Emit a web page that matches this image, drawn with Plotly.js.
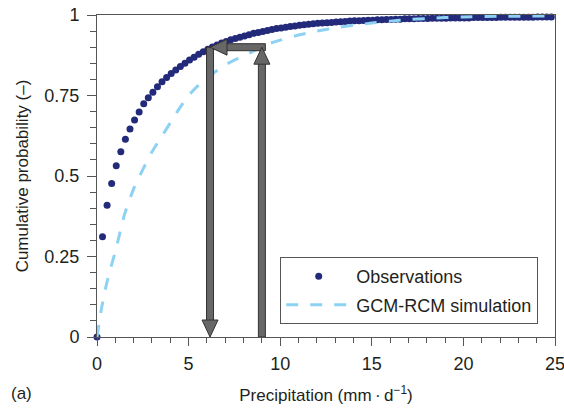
<!DOCTYPE html>
<html>
<head>
<meta charset="utf-8">
<script src="https://cdn.plot.ly/plotly-3.0.1.min.js"></script>
<style>html,body{margin:0;padding:0;background:#fff;}#chart{width:564px;height:412px;}</style>
</head>
<body>
<div id="chart"></div>
<script>
// Observations (empirical cumulative probability)
const obsX = [0, 0.3, 0.55, 0.8, 1.05, 1.3, 1.55, 1.8, 2.05, 2.3, 2.55, 2.8, 3.05, 3.3, 3.55,
  3.8, 4.05, 4.3, 4.55, 4.8, 5.05, 5.3, 5.55, 5.8, 6.05, 6.3, 6.55, 6.8, 7.05, 7.3, 7.55, 7.8,
  8.05, 8.3, 8.55, 8.8, 9.05, 9.3, 9.55, 9.8, 10.05, 10.3, 10.55, 10.8, 11.05, 11.3, 11.55, 11.8,
  12.05, 12.3, 12.55, 12.8, 13.05, 13.3, 13.55, 13.8, 14.05, 14.3, 14.55, 14.8, 15.05, 15.3, 15.55, 15.8,
  16.05, 16.3, 16.55, 16.8, 17.05, 17.3, 17.55, 17.8, 18.05, 18.3, 18.55, 18.8, 19.05, 19.3, 19.55, 19.8,
  20.05, 20.3, 20.55, 20.8, 21.05, 21.3, 21.55, 21.8, 22.05, 22.3, 22.55, 22.8, 23.05, 23.3, 23.55, 23.8,
  24.05, 24.3, 24.55, 24.8];
const obsY = [0, 0.311, 0.409, 0.477, 0.532, 0.575, 0.614, 0.646, 0.674, 0.699, 0.724, 0.743, 0.760, 0.777, 0.793,
  0.806, 0.818, 0.829, 0.840, 0.850, 0.860, 0.869, 0.878, 0.886, 0.894, 0.901, 0.907, 0.913, 0.918, 0.923, 0.927, 0.931,
  0.935, 0.939, 0.943, 0.946, 0.949, 0.952, 0.955, 0.958, 0.960, 0.962, 0.964, 0.966, 0.968, 0.970, 0.971, 0.973,
  0.974, 0.975, 0.976, 0.977, 0.978, 0.979, 0.980, 0.981, 0.982, 0.982, 0.983, 0.984, 0.984, 0.985, 0.985, 0.986,
  0.986, 0.987, 0.987, 0.988, 0.988, 0.988, 0.989, 0.989, 0.989, 0.990, 0.990, 0.990, 0.990, 0.991, 0.991, 0.991,
  0.991, 0.991, 0.992, 0.992, 0.992, 0.992, 0.992, 0.992, 0.993, 0.993, 0.993, 0.993, 0.993, 0.993, 0.993, 0.993,
  0.994, 0.994, 0.994, 0.994];
// GCM-RCM simulation
const simX = [0, 0.25, 0.5, 0.75, 1, 1.5, 2, 2.5, 3, 3.5, 4, 4.5, 5, 5.5, 6, 6.5, 7, 7.5, 8, 8.5, 9, 9.5, 10,
  11, 12, 13, 14, 15, 16, 17, 18, 19, 20, 22, 25];
const simY = [0, 0.09, 0.16, 0.215, 0.265, 0.38, 0.46, 0.52, 0.575, 0.62, 0.665, 0.71, 0.75, 0.78, 0.805, 0.825,
  0.845, 0.86, 0.872, 0.887, 0.9, 0.913, 0.922, 0.938, 0.95, 0.96, 0.968, 0.975, 0.981, 0.986, 0.989, 0.992,
  0.994, 0.996, 0.997];
// Quantile-mapping arrows
const probLevel = 0.9;
const obsQuantile = 6.17;
const simQuantile = 9.0;

const font = 'Liberation Sans, Arial, Helvetica, sans-serif';
const txt = '#231f20';
const axisCol = '#555555';
const arrowFill = '#676767';
const arrowEdge = '#333333';

const traces = [
  {x: obsX, y: obsY, type: 'scatter', mode: 'markers', name: 'Observations',
   marker: {color: '#232a7a', size: 7}, cliponaxis: false, legendgroup: 'a'},
  {x: simX, y: simY, type: 'scatter', mode: 'lines', name: 'GCM-RCM simulation',
   line: {color: '#8dd2f3', width: 3, dash: '12px,12px', shape: 'spline', smoothing: 0.6}, legendgroup: 'b'}
];

const hw = 3.5;
const shapes = [
  {type: 'rect', xref: 'x', yref: 'y', xsizemode: 'pixel', xanchor: simQuantile, x0: -hw, x1: hw,
   y0: 0, y1: probLevel - 0.03, fillcolor: arrowFill, line: {color: arrowEdge, width: 1}},
  {type: 'rect', xref: 'x', yref: 'y', ysizemode: 'pixel', yanchor: probLevel, y0: -hw, y1: hw,
   x0: obsQuantile + 0.6, x1: simQuantile + 0.19, fillcolor: arrowFill, line: {color: arrowEdge, width: 1}},
  {type: 'rect', xref: 'x', yref: 'y', xsizemode: 'pixel', xanchor: obsQuantile, x0: -hw, x1: hw,
   y0: 0.03, y1: probLevel, fillcolor: arrowFill, line: {color: arrowEdge, width: 1}},
  {type: 'path', xref: 'x', yref: 'y', xsizemode: 'pixel', ysizemode: 'pixel', xanchor: simQuantile, yanchor: probLevel,
   path: 'M0,0 L8,-17 L-8,-17 Z', fillcolor: arrowFill, line: {color: arrowEdge, width: 1}},
  {type: 'path', xref: 'x', yref: 'y', xsizemode: 'pixel', ysizemode: 'pixel', xanchor: obsQuantile, yanchor: probLevel,
   path: 'M0,0 L17,8 L17,-8 Z', fillcolor: arrowFill, line: {color: arrowEdge, width: 1}},
  {type: 'path', xref: 'x', yref: 'y', xsizemode: 'pixel', ysizemode: 'pixel', xanchor: obsQuantile, yanchor: 0,
   path: 'M0,0 L-8,17 L8,17 Z', fillcolor: arrowFill, line: {color: arrowEdge, width: 1}}
];

const layout = {
  width: 564, height: 412,
  margin: {l: 97, r: 9, t: 15, b: 75},
  paper_bgcolor: '#fff', plot_bgcolor: '#fff',
  font: {family: font, size: 18, color: txt},
  showlegend: true,
  legend: {x: 0.4, y: 0.248, xanchor: 'left', yanchor: 'top', bgcolor: '#fff',
    bordercolor: axisCol, borderwidth: 1, itemwidth: 65, traceorder: 'grouped', tracegroupgap: 2,
    font: {family: font, size: 18, color: txt}},
  xaxis: {range: [0, 25], dtick: 5, tick0: 0, showgrid: false, zeroline: false,
    showline: true, linecolor: axisCol, linewidth: 1, mirror: true,
    ticks: 'outside', ticklen: 8, tickcolor: axisCol, ticklabeloverflow: 'allow', ticklabelstandoff: 2,
    tickfont: {family: font, size: 18, color: txt},
    minor: {dtick: 1, ticks: 'outside', ticklen: 5, tickcolor: axisCol, showgrid: false},
    title: {text: 'Precipitation (mm\u2009\u00b7\u2009d<sup>\u22121</sup>)', font: {family: font, size: 17, color: txt}, standoff: 16}},
  yaxis: {range: [0, 1], dtick: 0.25, tick0: 0, showgrid: false, zeroline: false,
    showline: true, linecolor: axisCol, linewidth: 1, mirror: true,
    ticks: 'outside', ticklen: 9, tickcolor: axisCol, ticklabelstandoff: 4,
    tickfont: {family: font, size: 18, color: txt},
    minor: {dtick: 0.05, ticks: 'outside', ticklen: 6, tickcolor: axisCol, showgrid: false},
    title: {text: 'Cumulative probability (\u2013)', font: {family: font, size: 17, color: txt}, standoff: 11}},
  shapes: shapes,
  annotations: [
    {text: '(a)', xref: 'paper', yref: 'paper', x: -0.164, y: -0.174, xanchor: 'center', yanchor: 'middle',
     showarrow: false, font: {family: font, size: 17, color: txt}}
  ]
};

Plotly.newPlot('chart', traces, layout, {displayModeBar: false, staticPlot: true});
</script>
</body>
</html>
